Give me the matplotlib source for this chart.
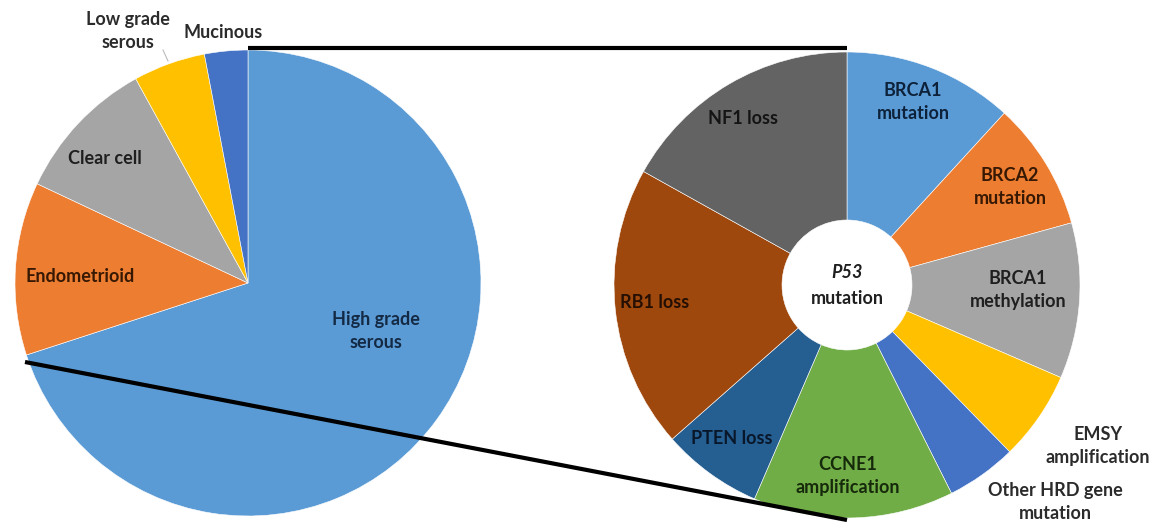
import matplotlib.pyplot as plt

# Left pie: ovarian cancer histotypes (clockwise from top)
histotipos = ['High grade\nserous', 'Endometrioid', 'Clear cell', 'Low grade\nserous', 'Mucinous']
percentuais = [70, 12, 10, 5, 3]
cores_esq = ['#5B9BD5', '#ED7D31', '#A5A5A5', '#FFC000', '#4472C4']

# Right donut: alterations in high grade serous (clockwise from top)
alteracoes = ['BRCA1\nmutation', 'BRCA2\nmutation', 'BRCA1\nmethylation', 'EMSY\namplification',
              'Other HRD gene\nmutation', 'CCNE1\namplification', 'PTEN loss', 'RB1 loss', 'NF1 loss']
frequencias = [11.8, 8.9, 10.8, 6.2, 4.9, 13.9, 7.0, 19.6, 16.9]
cores_dir = ['#5B9BD5', '#ED7D31', '#A5A5A5', '#FFC000', '#4472C4', '#70AD47', '#255E91', '#9E480E', '#636363']

W, H = 1163, 525
fig = plt.figure(figsize=(W / 100, H / 100), dpi=100)
ax = fig.add_axes([0, 0, 1, 1])

def py(y):
    # pixel row (from top) -> data y
    return H - y

# Left pie
ax.pie(percentuais, colors=cores_esq, startangle=90, counterclock=False,
       center=(248, py(283)), radius=233,
       wedgeprops=dict(edgecolor='white', linewidth=0.4))

# Right donut
ax.pie(frequencias, colors=cores_dir, startangle=90, counterclock=False,
       center=(847, py(285)), radius=233,
       wedgeprops=dict(width=233 - 65, edgecolor='white', linewidth=0.4))

ax.set_xlim(0, W)
ax.set_ylim(0, H)
ax.set_aspect('equal')
ax.axis('off')

# Connecting lines
ax.plot([248, 847], [py(48), py(48)], color='black', lw=3, solid_capstyle='butt', zorder=5)
ax.plot([25, 847], [py(362), py(520)], color='black', lw=3, solid_capstyle='butt', zorder=5)
ax.plot([163, 168], [py(50), py(61)], color='#bbbbbb', lw=0.8, zorder=5)

fonte = dict(family='Lato', weight='bold', fontsize=13, ha='center', va='center',
             linespacing=1.4, zorder=6)

# Left labels
rotulos_esq = [
    ('High grade\nserous', 376, 331, '#142a44'),
    ('Endometrioid', 80, 277, '#361803'),
    ('Clear cell', 105, 158, '#1f1f1f'),
    ('Low grade\nserous', 128, 31, '#2b2b2b'),
    ('Mucinous', 223, 33, '#2b2b2b'),
]
for txt, x, y, c in rotulos_esq:
    ax.text(x, py(y), txt, color=c, **fonte)

# Right labels
rotulos_dir = [
    ('BRCA1\nmutation', 913, 102, '#0d223a'),
    ('BRCA2\nmutation', 1010, 187, '#361803'),
    ('BRCA1\nmethylation', 1018, 290, '#1f1f1f'),
    ('EMSY\namplification', 1098, 446, '#2b2b2b'),
    ('Other HRD gene\nmutation', 1055, 502, '#2b2b2b'),
    ('CCNE1\namplification', 848, 476, '#16290b'),
    ('PTEN loss', 732, 438, '#09172a'),
    ('RB1 loss', 655, 302, '#240f02'),
    ('NF1 loss', 743, 118, '#141414'),
]
for txt, x, y, c in rotulos_dir:
    ax.text(x, py(y), txt, color=c, **fonte)

ax.text(847, py(272), 'P53', color='#1f1f1f', style='italic', **fonte)
ax.text(847, py(298), 'mutation', color='#1f1f1f', **fonte)

fig.savefig('out.png', dpi=100, facecolor='white')
